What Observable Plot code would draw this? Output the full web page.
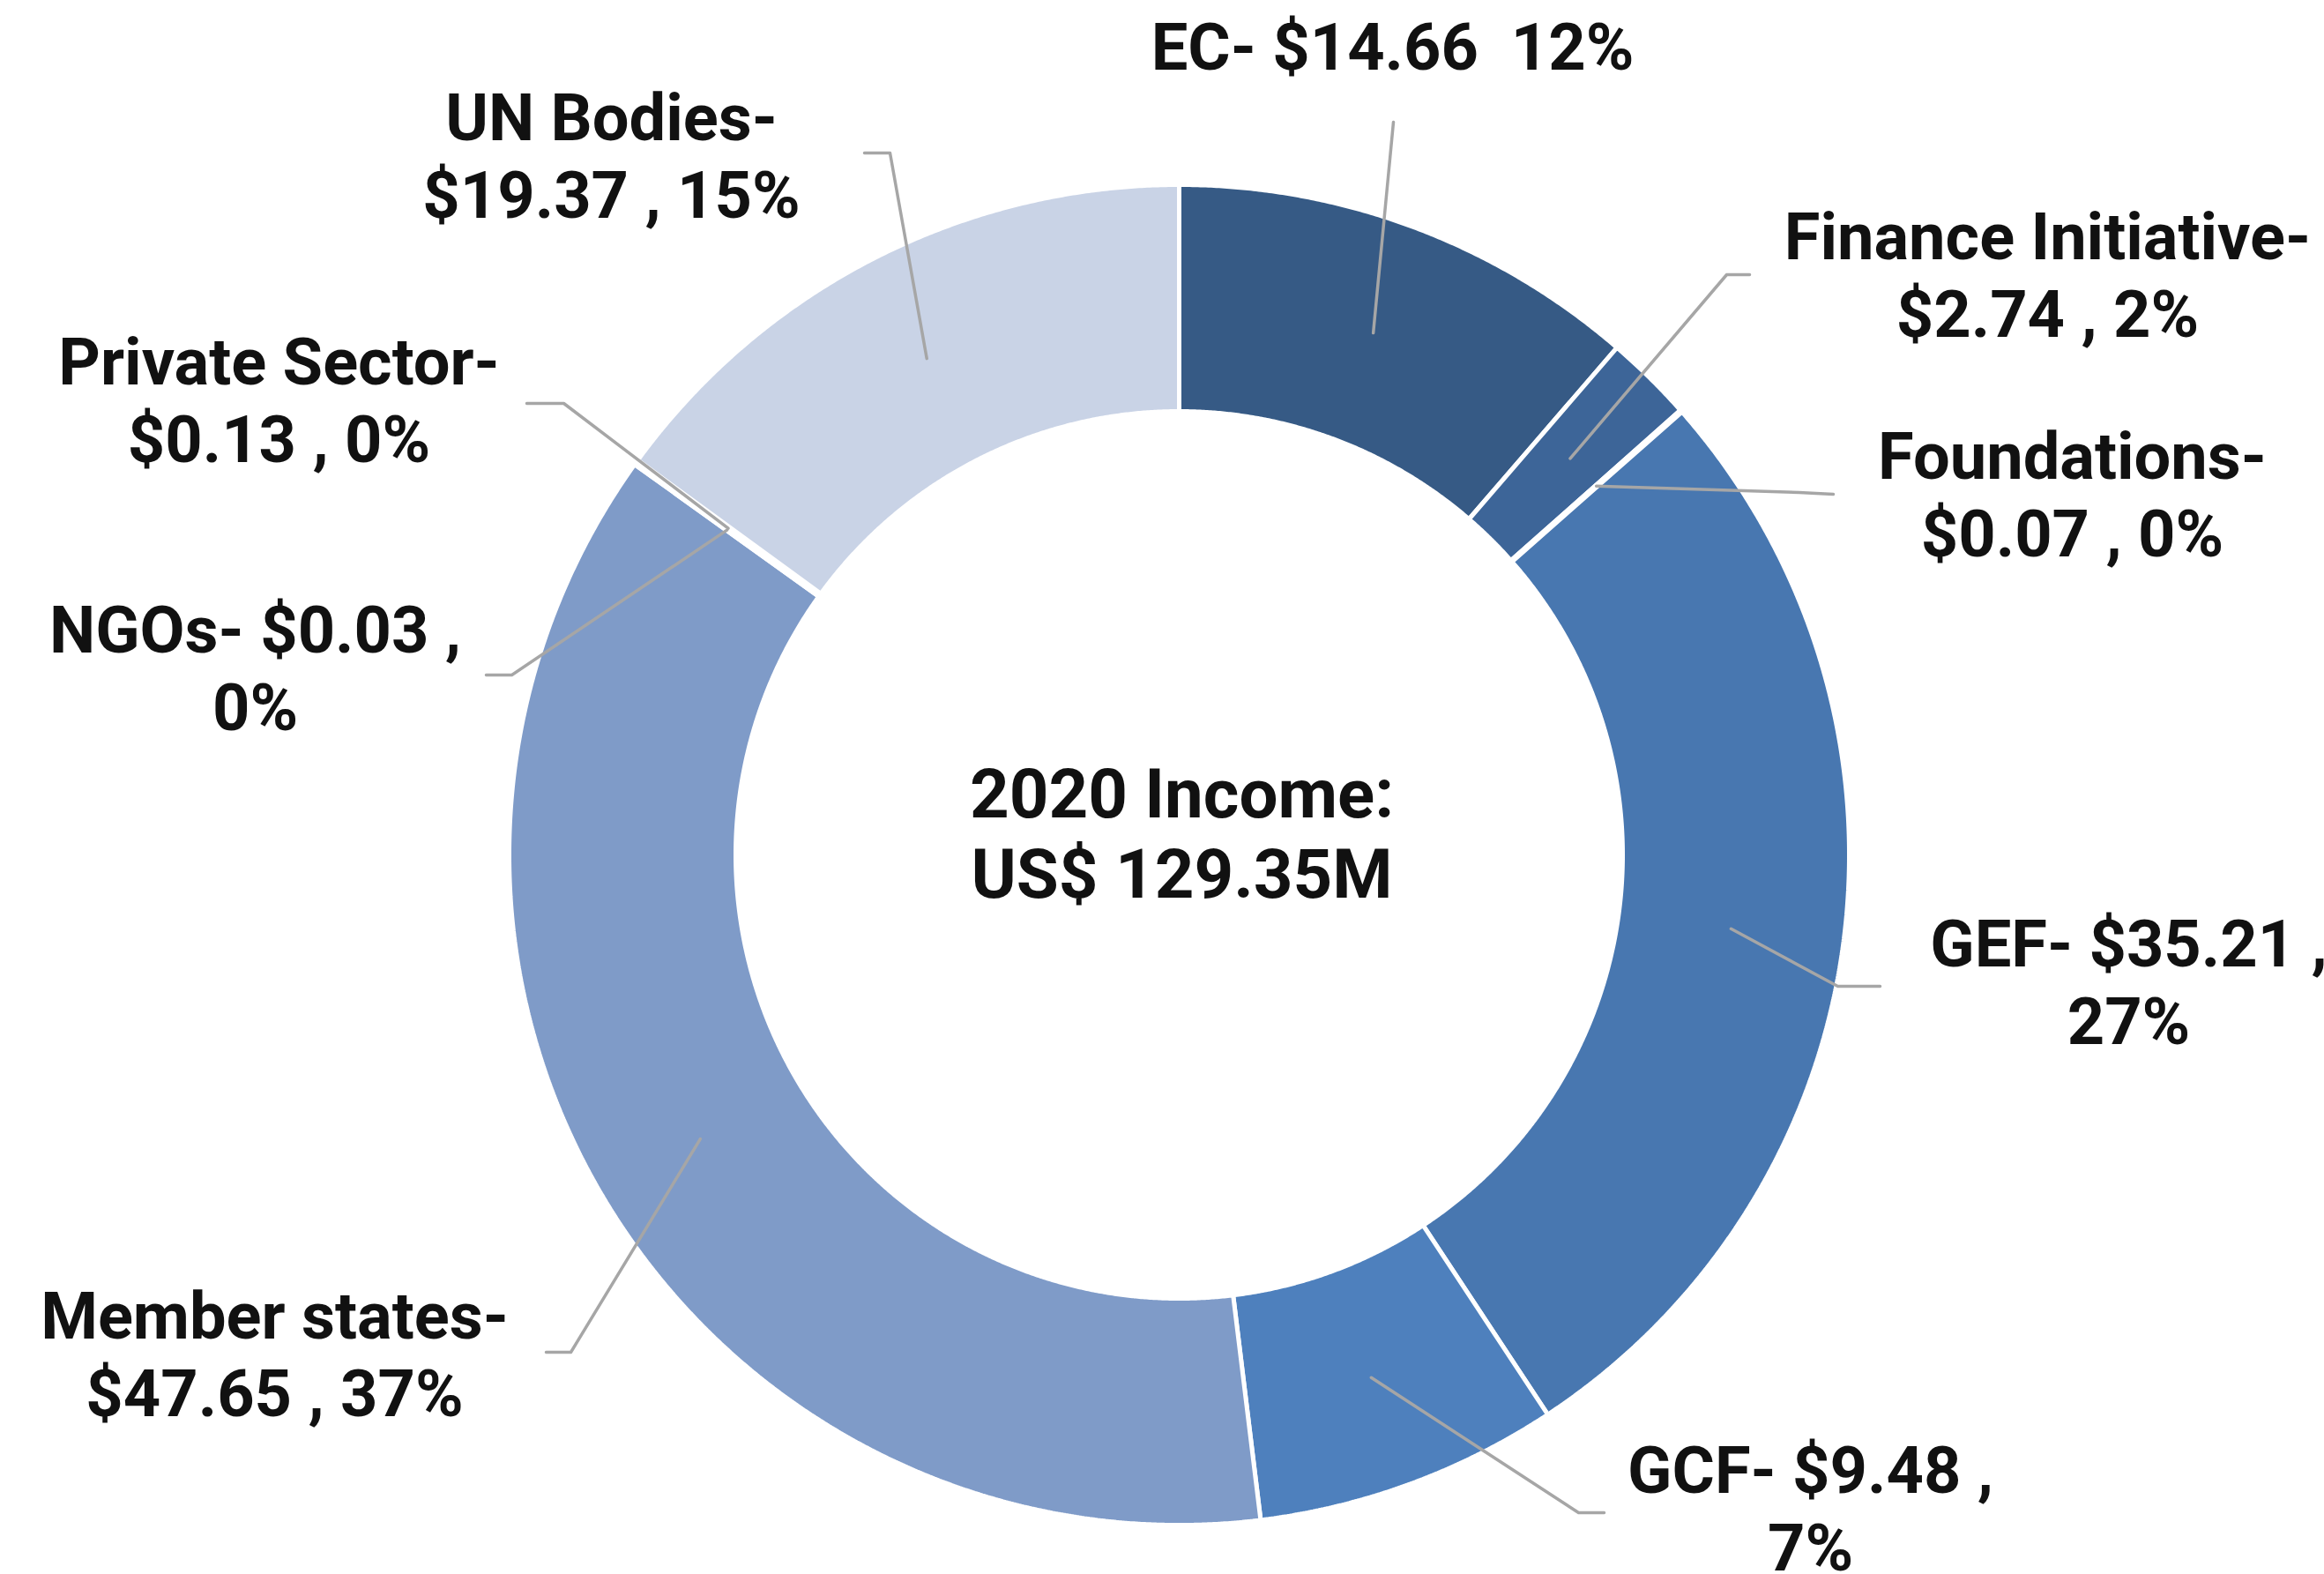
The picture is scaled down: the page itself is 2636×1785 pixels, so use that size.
<!DOCTYPE html>
<html>
<head>
<meta charset="utf-8">
<script src="https://cdn.jsdelivr.net/npm/d3@7"></script>
<script src="https://cdn.jsdelivr.net/npm/@observablehq/plot@0.6"></script>
<style>
  html, body { margin: 0; padding: 0; background: #ffffff; }
  #chart svg { display: block; }
</style>
</head>
<body>
<div id="chart"></div>
<script>
// ---------- DATA ----------
const categories = ["EC", "Finance Initiative", "Foundations", "GEF", "GCF", "Member states", "NGOs", "Private Sector", "UN Bodies"];
const values = [14.66, 2.74, 0.07, 35.21, 9.48, 47.65, 0.03, 0.13, 19.37];
const percents = [12, 2, 0, 27, 7, 37, 0, 0, 15];
const labelTexts = [
  "EC- $14.66  12%",
  "Finance Initiative-\n$2.74 , 2%",
  "Foundations-\n$0.07 , 0%",
  "GEF- $35.21 ,\n27%",
  "GCF- $9.48 ,\n7%",
  "Member states-\n$47.65 , 37%",
  "NGOs- $0.03 ,\n0%",
  "Private Sector-\n$0.13 , 0%",
  "UN Bodies-\n$19.37 , 15%"
];
const centerText = "2020 Income:\nUS$ 129.35M";

// ---------- LAYOUT / STYLE ----------
const W = 2636, H = 1785;
const CX = 1337, CY = 969, R_OUT = 760, R_IN = 503;
const sliceColors = ["#365A85", "#3D6598", "#4472B8", "#4877B0", "#4E80BD", "#7F9BC8", "#9DB1D8", "#AFC0E0", "#C9D3E6"];
// label centre and leader-line bend/end points (pixels)
const labelPos = [[1579, 50], [2322, 309], [2350, 558], [2414, 1111], [2053, 1708], [311, 1533], [289, 755], [316, 451], [693, 174]];
const leaderBends = [
  [[1580, 138]],
  [[1958, 311], [1984, 311]],
  [[2040, 558], [2079, 560]],
  [[2084, 1118], [2132, 1118]],
  [[1790, 1715], [1819, 1715]],
  [[647, 1533], [619, 1533]],
  [[580, 765], [551, 765]],
  [[639, 457], [597, 457]],
  [[1009, 173], [980, 173]]
];

// ---------- GEOMETRY FROM DATA ----------
const total = d3.sum(values);
const starts = [];
let acc = 0;
for (const v of values) { starts.push(acc); acc += v; }
const toAngle = v => v / total * 2 * Math.PI; // clockwise from 12 o'clock
const pt = (a, r) => [CX + r * Math.sin(a), CY - r * Math.cos(a)];

const slices = categories.map((name, i) => {
  const a0 = toAngle(starts[i]), a1 = toAngle(starts[i] + values[i]);
  const n = Math.max(2, Math.ceil((a1 - a0) / 0.004));
  const pts = [];
  for (let k = 0; k <= n; k++) { const a = a0 + (a1 - a0) * k / n; const [x, y] = pt(a, R_OUT); pts.push({name, x, y}); }
  for (let k = n; k >= 0; k--) { const a = a0 + (a1 - a0) * k / n; const [x, y] = pt(a, R_IN); pts.push({name, x, y}); }
  return pts;
});

const leaders = categories.flatMap((name, i) => {
  const mid = toAngle(starts[i] + values[i] / 2);
  const [x0, y0] = pt(mid, (R_OUT + R_IN) / 2);
  return [{name, x: x0, y: y0}, ...leaderBends[i].map(([x, y]) => ({name, x, y}))];
});

const labels = categories.map((name, i) => ({name, text: labelTexts[i], x: labelPos[i][0], y: labelPos[i][1]}));

const plot = Plot.plot({
  width: W,
  height: H,
  margin: 0,
  style: {background: "#ffffff", fontFamily: "Roboto, 'Noto Sans', sans-serif", overflow: "visible"},
  x: {domain: [0, W], range: [0, W], axis: null},
  y: {domain: [0, H], range: [0, H], axis: null},
  marks: [
    ...slices.map((pts, i) => Plot.line(pts, {
      x: "x", y: "y", curve: "linear-closed",
      fill: sliceColors[i], stroke: "#ffffff", strokeWidth: 5, strokeLinejoin: "miter"
    })),
    Plot.line(leaders, {x: "x", y: "y", z: "name", stroke: "#A6A6A6", strokeWidth: 3.5}),
    Plot.text(labels, {
      x: "x", y: "y", text: "text",
      fontSize: 74, fontWeight: 700, fill: "#111111",
      textAnchor: "middle", lineAnchor: "middle", lineHeight: 1.2
    }),
    Plot.text([centerText], {
      x: [CX + 3], y: [943], text: d => d,
      fontSize: 78, fontWeight: 700, fill: "#111111",
      textAnchor: "middle", lineAnchor: "middle", lineHeight: 1.17
    })
  ]
});
document.getElementById("chart").appendChild(plot);
</script>
</body>
</html>
